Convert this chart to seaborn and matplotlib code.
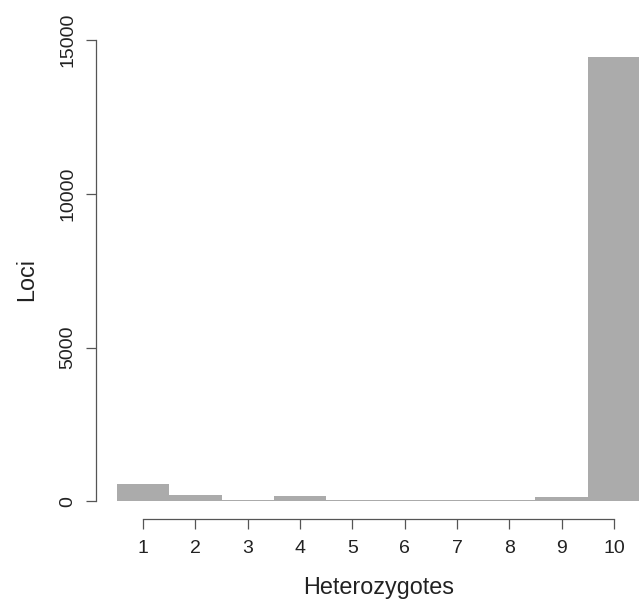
import matplotlib
matplotlib.use("Agg")
import matplotlib.pyplot as plt
import seaborn as sns
import pandas as pd

# Data
heterozygotes = ["1", "2", "3", "4", "5", "6", "7", "8", "9", "10"]
loci = [553, 195, 40, 160, 25, 25, 25, 45, 125, 14440]
y_ticks = [0, 5000, 10000, 15000]
y_tick_labels = ["0", "5000", "10000", "15000"]

sns.set_style("white")
plt.rcParams["font.family"] = ["Liberation Sans", "DejaVu Sans"]

W, H = 639, 601
fig = plt.figure(figsize=(W / 100, H / 100), dpi=100)

# plot region (R-style), in pixels: x 96..661, y 39.5..519 (from top)
left_px, right_px, top_px, bottom_px = 96, 661, 39.5, 519
ax = fig.add_axes([left_px / W, (H - bottom_px) / H,
                   (right_px - left_px) / W, (bottom_px - top_px) / H])

df = pd.DataFrame({"Heterozygotes": heterozygotes, "Loci": loci})
sns.barplot(data=df, x="Heterozygotes", y="Loci", order=heterozygotes,
            color="#ababab", saturation=1, width=1.0, linewidth=0,
            ax=ax)

ax.set_xlim(-0.9, 9.9)
ax.set_ylim(-578, 15018)

for s in ["top", "right"]:
    ax.spines[s].set_visible(False)
for s in ["left", "bottom"]:
    ax.spines[s].set_color("#555555")
    ax.spines[s].set_linewidth(0.9)
ax.spines["left"].set_bounds(0, 15000)
ax.spines["bottom"].set_bounds(0, 9)

ax.set_xticks(range(len(heterozygotes)))
ax.set_xticklabels(heterozygotes)
ax.set_yticks(y_ticks)
ax.set_yticklabels(y_tick_labels, rotation=90, va="center")

ax.tick_params(axis="both", which="both", direction="out", length=7.2,
               width=0.9, color="#555555", labelsize=14, labelcolor="#222222")
ax.tick_params(axis="x", pad=8.0, bottom=True)
ax.tick_params(axis="y", pad=7.2, left=True)

ax.set_xlabel("Heterozygotes", fontsize=16.8, color="#222222")
ax.set_ylabel("Loci", fontsize=16.8, color="#222222")
ax.xaxis.label.set_va("baseline")
ax.yaxis.label.set_va("baseline")
ax_h = bottom_px - top_px
ax_w = right_px - left_px
ax.xaxis.set_label_coords(0.5, -(594 - bottom_px) / ax_h)
ax.yaxis.set_label_coords(-(left_px - 33.3) / ax_w, 0.5)

fig.savefig("out.png", dpi=100)
